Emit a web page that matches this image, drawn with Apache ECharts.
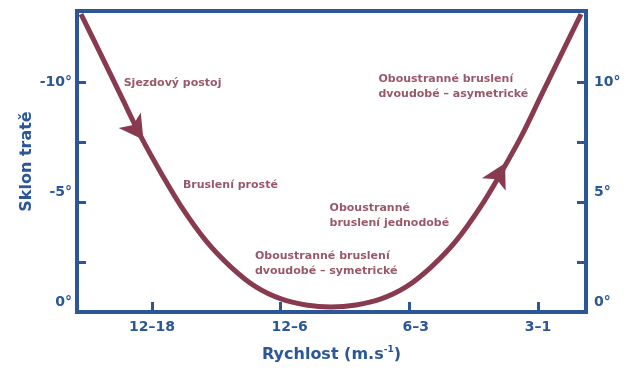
<!DOCTYPE html>
<html><head><meta charset="utf-8">
<script src="https://cdn.jsdelivr.net/npm/echarts@6/dist/echarts.min.js"></script>
<style>html,body{margin:0;padding:0;background:#fff}#c{width:630px;height:370px}</style>
</head><body><div id="c"></div>
<script>
// ---- data ----
const speedCategories = ['12–18', '12–6', '6–3', '3–1'];
const speedLabelValues = [0, 1.07, 2.05, 3];
const slopeTickValues = [2.5, 5, 7.5, 10];
const slopeLabelValues = [0.83, 5.42, 10];
const slopeLabelsLeft = ['0°', '-5°', '-10°'];
const slopeLabelsRight = ['0°', '5°', '10°'];

const curveX = [-0.552, -0.396, -0.241, -0.085, 0.070, 0.225, 0.420, 0.614, 0.808, 1.003, 1.197, 1.391, 1.586, 1.780, 1.974, 2.169, 2.363, 2.557, 2.712, 2.868, 3.023, 3.179, 3.334];
const curveY = [12.83, 11.13, 9.42, 7.71, 6.21, 4.83, 3.38, 2.29, 1.46, 0.96, 0.71, 0.625, 0.71, 0.96, 1.46, 2.29, 3.38, 4.83, 6.21, 7.71, 9.42, 11.13, 12.83];

const arrowX = [-0.12, 2.70];
const arrowY = [8.0, 6.17];
const arrowAngle = [-145, -28];

const noteText = ['Sjezdový postoj', 'Bruslení prosté', 'Oboustranné bruslení\ndvoudobé – symetrické', 'Oboustranné\nbruslení jednodobé', 'Oboustranné bruslení\ndvoudobé – asymetrické'];
const noteX = [-0.22, 0.24, 0.80, 1.38, 1.76];
const noteY = [9.96, 5.71, 2.44, 4.42, 9.81];

// ---- chart ----
const BLUE = '#2B5797';
const RED = '#883A4E';
const TEXT_RED = '#7E2E44';
const FONT = 'DejaVu Sans';
const ARROW = 'path://M0,0 L13,24 L0,18 L-13,24 Z';

const chart = echarts.init(document.getElementById('c'), null, {renderer: 'canvas'});
const nearestIdx = (v, vals) => { let b = 0; vals.forEach((x, i) => { if (Math.abs(x - v) < Math.abs(vals[b] - v)) b = i; }); return b; };

const yCommon = {
  type: 'value', min: 0.4167, max: 12.958,
  splitLine: {show: false}, axisLine: {show: false, onZero: false},
  nameMoveOverlap: false,
  axisTick: {show: true, inside: true, length: 9, customValues: slopeTickValues, lineStyle: {color: BLUE, width: 3}},
};

chart.setOption({
  animation: false,
  grid: {left: 77, right: 44, top: 11, bottom: 58, containLabel: false, outerBoundsMode: 'none',
    show: true, borderColor: BLUE, borderWidth: 4, backgroundColor: 'transparent'},
  xAxis: {
    type: 'value', min: -0.5829, max: 3.373,
    splitLine: {show: false}, axisLine: {show: false, onZero: false},
    nameMoveOverlap: false,
    axisTick: {show: true, inside: true, length: 10, customValues: [0, 1, 2, 3], lineStyle: {color: BLUE, width: 3}},
    axisLabel: {customValues: speedLabelValues, margin: 8, color: BLUE, fontFamily: FONT, fontWeight: 'bold', fontSize: 14,
      formatter: v => speedCategories[nearestIdx(v, speedLabelValues)]},
    name: '{a|Rychlost (m.s}{b|-1}{a|)}', nameLocation: 'middle', nameGap: 33,
    nameTextStyle: {rich: {
      a: {color: BLUE, fontFamily: FONT, fontWeight: 'bold', fontSize: 16, lineHeight: 20},
      b: {color: BLUE, fontFamily: FONT, fontWeight: 'bold', fontSize: 9, lineHeight: 20, verticalAlign: 'top', padding: [0, 0, 8, 0]}
    }}
  },
  yAxis: [
    Object.assign({}, yCommon, {
      position: 'left',
      axisLabel: {customValues: slopeLabelValues, margin: 5, color: BLUE, fontFamily: FONT, fontWeight: 'bold', fontSize: 14,
        formatter: v => slopeLabelsLeft[nearestIdx(v, slopeLabelValues)]},
      name: 'Sklon tratě', nameLocation: 'middle', nameGap: 42, nameRotate: 90,
      nameTextStyle: {color: BLUE, fontFamily: FONT, fontWeight: 'bold', fontSize: 16}
    }),
    Object.assign({}, yCommon, {
      position: 'right',
      axisLabel: {customValues: slopeLabelValues, margin: 8, color: BLUE, fontFamily: FONT, fontWeight: 'bold', fontSize: 14,
        formatter: v => slopeLabelsRight[nearestIdx(v, slopeLabelValues)]}
    })
  ],
  series: [
    {
      type: 'line', smooth: 0.35, symbol: 'none', z: 3,
      data: curveX.map((x, i) => [x, curveY[i]]),
      lineStyle: {color: RED, width: 5}
    },
    {
      type: 'scatter', symbol: ARROW, symbolSize: [27, 24], z: 4,
      data: arrowX.map((x, i) => ({value: [x, arrowY[i]], symbolRotate: arrowAngle[i]})),
      itemStyle: {color: RED, opacity: 1}
    },
    {
      type: 'scatter', symbolSize: 0, z: 5, silent: true,
      data: noteX.map((x, i) => ({value: [x, noteY[i]], name: noteText[i]})),
      label: {show: true, position: [0, 0], align: 'left', verticalAlign: 'middle',
        formatter: p => p.name, color: TEXT_RED, fontFamily: FONT, fontWeight: 'bold', fontSize: 11, lineHeight: 15}
    }
  ]
});
</script>
</body></html>
